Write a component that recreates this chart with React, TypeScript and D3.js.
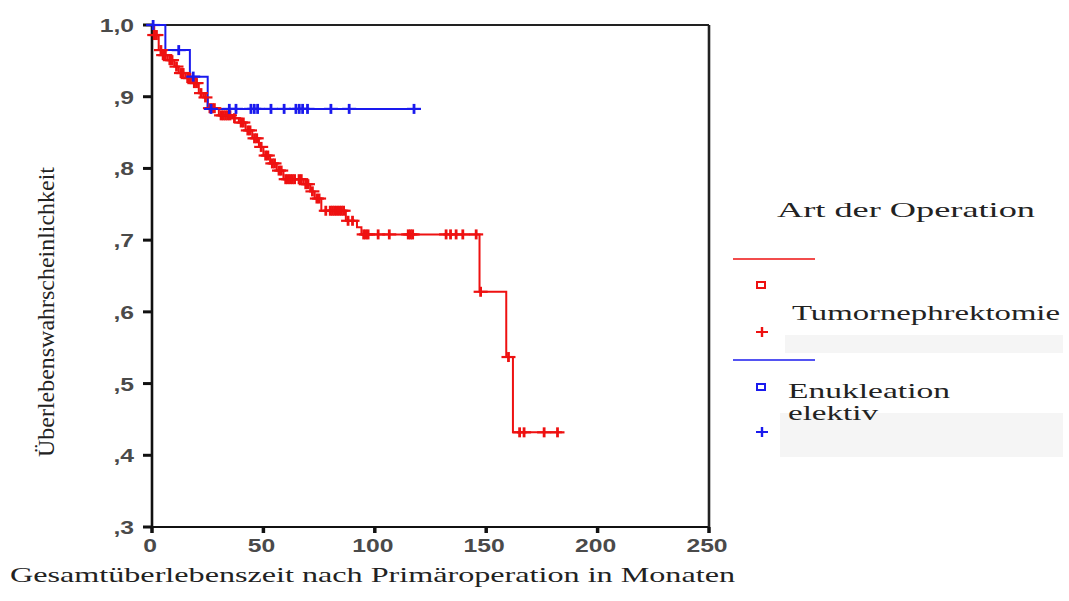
import React from "react";
import * as d3 from "d3";

// Kaplan-Meier steps: [month, survival]
const redSteps: [number, number][] = [
  [0, 1.0], [1, 0.986], [3, 0.965], [5, 0.958], [7, 0.951], [10, 0.942], [12, 0.933],
  [15, 0.926], [18, 0.919], [21, 0.905], [23, 0.899], [25, 0.884], [30, 0.874], [36, 0.87],
  [39, 0.864], [42, 0.853], [45, 0.842], [48, 0.83], [50, 0.818], [53, 0.807], [56, 0.797],
  [59, 0.785], [68, 0.778], [71, 0.768], [73, 0.758], [76, 0.741], [87, 0.727], [92, 0.718],
  [94, 0.708], [147, 0.628], [159, 0.537], [162, 0.432],
];
const redEnd = 184;
const redCensored = [
  1, 2, 4, 5, 6, 8, 9, 11, 13, 14, 16, 17, 19, 20, 22, 24, 26, 27, 28, 31, 32, 33, 34, 35, 37,
  40, 41, 43, 44, 46, 47, 49, 51, 52, 54, 55, 57, 58, 60, 61, 62, 63, 64, 66, 67, 69, 70, 72,
  74, 75, 78, 80, 81, 82, 83, 84, 85, 86, 88, 90, 95, 96, 97, 101.5, 106.5, 115, 116, 117,
  132, 134, 136.5, 139.5, 145.5, 147.5, 160, 165, 167, 176, 182,
];

const blueSteps: [number, number][] = [[0, 1.0], [6, 0.965], [17, 0.928], [25, 0.883]];
const blueEnd = 118;
const blueCensored = [
  0.5, 12, 18.5, 26.5, 34.7, 37.7, 44.4, 45.9, 47.4, 53.4, 59.3, 64.6, 66.1, 67.6, 69.8, 80.3,
  88.5, 117.6,
];

const yTicks = [1.0, 0.9, 0.8, 0.7, 0.6, 0.5, 0.4, 0.3];
const yTickLabels = ["1,0", ",9", ",8", ",7", ",6", ",5", ",4", ",3"];
const xTicks = [0, 50, 100, 150, 200, 250];

const RED = "#ee1111";
const BLUE = "#1a1aee";
const SANS = "Liberation Sans, Arial, sans-serif";
const SERIF = "Liberation Serif, Times New Roman, serif";

function survivalAt(steps: [number, number][], t: number) {
  let v = steps[0][1];
  for (const [s, val] of steps) if (s <= t) v = val;
  return v;
}

export default function App() {
  const x = d3.scaleLinear().domain([0, 250]).range([152, 709]);
  const y = d3.scaleLinear().domain([0.3, 1.0]).range([527, 25]);
  const line = d3
    .line<[number, number]>()
    .x((d) => x(d[0]))
    .y((d) => y(d[1]))
    .curve(d3.curveStepAfter);

  const curve = (steps: [number, number][], end: number) =>
    line([...steps, [end, steps[steps.length - 1][1]]]) || "";

  const cross = (t: number, steps: [number, number][], color: string, key: string) => {
    const cx = x(t);
    const cy = y(survivalAt(steps, t));
    return (
      <g key={key} stroke={color}>
        <line x1={cx - 7} x2={cx + 7} y1={cy} y2={cy} strokeWidth={2.2} />
        <line x1={cx} x2={cx} y1={cy - 5} y2={cy + 5} strokeWidth={2.8} />
      </g>
    );
  };

  const [x0, x1] = x.range();
  const [yb, yt] = y.range();

  return (
    <svg width={1069} height={601} style={{ position: "absolute", left: 0, top: 0, background: "#fff" }}>
      {/* frame */}
      <line x1={x0} x2={x1} y1={yt} y2={yt} stroke="#222" strokeWidth={2} />
      <line x1={x0} x2={x1} y1={yb} y2={yb} stroke="#111" strokeWidth={2} />
      <line x1={x0} x2={x0} y1={yt} y2={yb} stroke="#111" strokeWidth={2.6} />
      <line x1={x1} x2={x1} y1={yt} y2={yb} stroke="#222" strokeWidth={2.6} />
      {yTicks.map((v, i) => (
        <g key={"y" + v}>
          <line x1={143} x2={x0} y1={y(v)} y2={y(v)} stroke="#111" strokeWidth={3} />
          <text
            transform={`translate(134,${y(v) + 7}) scale(1.3,1)`}
            textAnchor="end"
            fontFamily={SANS}
            fontWeight="bold"
            fontSize={19}
            fill="#4a4a4a"
          >
            {yTickLabels[i]}
          </text>
        </g>
      ))}
      {xTicks.map((v) => (
        <g key={"x" + v}>
          <line x1={x(v)} x2={x(v)} y1={yb} y2={yb + 6} stroke="#111" strokeWidth={3.5} />
          <text
            transform={`translate(${x(v) - 2},552) scale(1.3,1)`}
            textAnchor="middle"
            fontFamily={SANS}
            fontWeight="bold"
            fontSize={19}
            fill="#4a4a4a"
          >
            {v}
          </text>
        </g>
      ))}

      {/* curves */}
      <path d={curve(redSteps, redEnd)} fill="none" stroke={RED} strokeWidth={2} />
      <path d={curve(blueSteps, blueEnd)} fill="none" stroke={BLUE} strokeWidth={2} />
      {redCensored.map((t, i) => cross(t, redSteps, RED, "r" + i))}
      {blueCensored.map((t, i) => cross(t, blueSteps, BLUE, "b" + i))}

      {/* axis titles */}
      <text
        transform="translate(54,312) rotate(-90)"
        textAnchor="middle"
        fontFamily={SERIF}
        fontSize={24}
        fill="#222"
        textLength={290}
        lengthAdjust="spacingAndGlyphs"
      >
        Überlebenswahrscheinlichkeit
      </text>
      <text
        x={10}
        y={582}
        fontFamily={SERIF}
        fontSize={21}
        fill="#222"
        textLength={725}
        lengthAdjust="spacingAndGlyphs"
      >
        Gesamtüberlebenszeit nach Primäroperation in Monaten
      </text>

      {/* legend */}
      <g fontFamily={SERIF} fill="#222" fontSize={21}>
        <text x={777} y={217} textLength={258} lengthAdjust="spacingAndGlyphs">
          Art der Operation
        </text>
        <rect x={785} y={335} width={278} height={18} fill="#f5f5f5" />
        <rect x={780} y={413} width={283} height={44} fill="#f5f5f5" />
        <line x1={733} x2={815} y1={259} y2={259} stroke={RED} strokeWidth={1.5} />
        <rect x={757} y={282} width={8} height={6} fill="none" stroke={RED} strokeWidth={2} />
        <text x={792} y={320} textLength={268} lengthAdjust="spacingAndGlyphs">
          Tumornephrektomie
        </text>
        <g stroke={RED}>
          <line x1={756} x2={768} y1={332} y2={332} strokeWidth={2} />
          <line x1={762} x2={762} y1={327} y2={337} strokeWidth={2.4} />
        </g>
        <line x1={733} x2={815} y1={360} y2={360} stroke={BLUE} strokeWidth={1.5} />
        <rect x={757} y={384} width={8} height={6} fill="none" stroke={BLUE} strokeWidth={2} />
        <text x={788} y={398} textLength={162} lengthAdjust="spacingAndGlyphs">
          Enukleation
        </text>
        <text x={788} y={420} textLength={90} lengthAdjust="spacingAndGlyphs">
          elektiv
        </text>
        <g stroke={BLUE}>
          <line x1={756} x2={768} y1={432} y2={432} strokeWidth={2} />
          <line x1={762} x2={762} y1={427} y2={437} strokeWidth={2.4} />
        </g>
      </g>
    </svg>
  );
}
